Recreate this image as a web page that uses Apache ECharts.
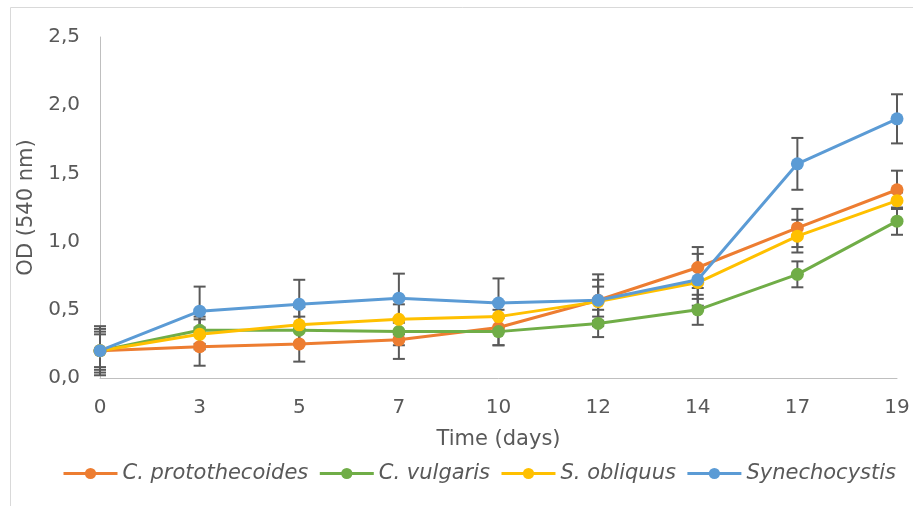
<!DOCTYPE html>
<html>
<head>
<meta charset="utf-8">
<script src="https://cdn.jsdelivr.net/npm/echarts@6/dist/echarts.min.js"></script>
<style>
  html, body { margin: 0; padding: 0; background: #fff; }
  #main { width: 913px; height: 506px; }
</style>
</head>
<body>
<div id="main"></div>
<script>
// 时间点（天）
var days = ['0', '3', '5', '7', '10', '12', '14', '17', '19'];

// OD 均值
var protothecoides = [0.20, 0.23, 0.25, 0.28, 0.37, 0.57, 0.81, 1.10, 1.38];
var vulgaris       = [0.20, 0.35, 0.35, 0.34, 0.34, 0.40, 0.50, 0.76, 1.15];
var obliquus       = [0.20, 0.32, 0.39, 0.43, 0.45, 0.56, 0.70, 1.04, 1.30];
var synechocystis  = [0.20, 0.49, 0.54, 0.585, 0.55, 0.57, 0.72, 1.57, 1.90];

// 误差（标准差）
var protoErr = [0.16, 0.14, 0.13, 0.14, 0.13, 0.15, 0.15, 0.14, 0.14];
var vulgErr  = [0.12, 0.10, 0.10, 0.10, 0.10, 0.10, 0.11, 0.095, 0.10];
var obliErr  = [0.14, 0.11, 0.13, 0.11, 0.11, 0.11, 0.12, 0.12, 0.06];
var synErr   = [0.18, 0.18, 0.18, 0.18, 0.18, 0.19, 0.19, 0.19, 0.18];

var yTicks = ['0,0', '0,5', '1,0', '1,5', '2,0', '2,5'];

var names  = ['C. protothecoides', 'C. vulgaris', 'S. obliquus', 'Synechocystis'];
var colors = ['#ED7D31', '#70AD47', '#FFC000', '#5B9BD5'];
var means  = [protothecoides, vulgaris, obliquus, synechocystis];
var errs   = [protoErr, vulgErr, obliErr, synErr];

var font = 'DejaVu Sans';

var myChart = echarts.init(document.getElementById('main'));

function errorSeries(mean, err) {
    var data = mean.map(function (v, i) { return [i, v - err[i], v + err[i]]; });
    return {
        type: 'custom',
        silent: true,
        z: 1,
        renderItem: function (params, api) {
            var lo = api.coord([api.value(0), api.value(1)]);
            var hi = api.coord([api.value(0), api.value(2)]);
            var w = 6;
            var st = { stroke: '#595959', lineWidth: 2 };
            return {
                type: 'group',
                children: [
                    { type: 'line', shape: { x1: hi[0], y1: hi[1], x2: lo[0], y2: lo[1] }, style: st },
                    { type: 'line', shape: { x1: hi[0] - w, y1: hi[1], x2: hi[0] + w, y2: hi[1] }, style: st },
                    { type: 'line', shape: { x1: lo[0] - w, y1: lo[1], x2: lo[0] + w, y2: lo[1] }, style: st }
                ]
            };
        },
        data: data
    };
}

var series = [];
for (var k = 0; k < means.length; k++) {
    series.push(errorSeries(means[k], errs[k]));
}
for (var k = 0; k < means.length; k++) {
    series.push({
        name: names[k],
        type: 'line',
        z: 3,
        data: means[k],
        symbol: 'circle',
        symbolSize: 13,
        lineStyle: { color: colors[k], width: 3 },
        itemStyle: { color: colors[k] }
    });
}

myChart.setOption({
    animation: false,
    color: colors,
    textStyle: { fontFamily: font },
    graphic: [{
        type: 'rect',
        left: 8, top: 5,
        shape: { width: 1000, height: 1000 },
        style: { fill: 'none', stroke: '#D9D9D9', lineWidth: 1 }
    }],
    grid: { left: 100, right: 16, top: 37, bottom: 128 },
    legend: {
        data: names,
        top: 458,
        left: 57,
        itemWidth: 54,
        itemHeight: 14,
        itemGap: 10,
        lineStyle: { width: 3 },
        textStyle: { color: '#595959', fontSize: 21, fontStyle: 'italic', fontFamily: font }
    },
    xAxis: {
        type: 'category',
        data: days,
        boundaryGap: false,
        name: 'Time (days)',
        nameLocation: 'middle',
        nameGap: 51,
        nameTextStyle: { color: '#595959', fontSize: 21, fontFamily: font },
        axisLine: { lineStyle: { color: '#BFBFBF', width: 1 } },
        axisTick: { show: false },
        axisLabel: { color: '#595959', fontSize: 20, margin: 20, fontFamily: font }
    },
    yAxis: {
        type: 'value',
        min: 0,
        max: 2.5,
        interval: 0.5,
        name: 'OD (540 nm)',
        nameLocation: 'middle',
        nameGap: 60,
        nameTextStyle: { color: '#595959', fontSize: 21, fontFamily: font },
        axisLine: { show: true, lineStyle: { color: '#BFBFBF', width: 1 } },
        axisTick: { show: false },
        splitLine: { show: false },
        axisLabel: {
            color: '#595959', fontSize: 20, margin: 20, fontFamily: font,
            formatter: function (v) { return yTicks[Math.round(v / 0.5)]; }
        }
    },
    series: series
});
</script>
</body>
</html>
